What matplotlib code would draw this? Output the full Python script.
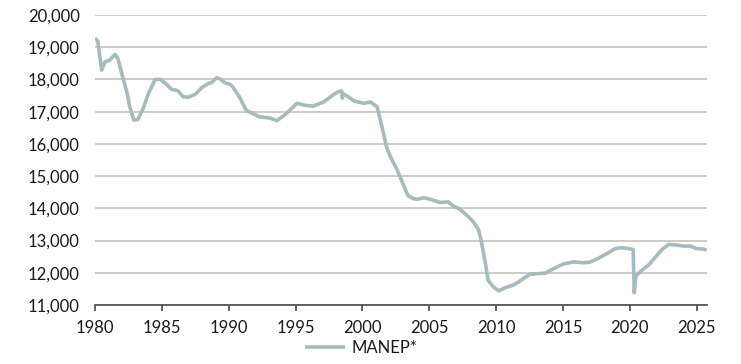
import matplotlib.pyplot as plt
import matplotlib.ticker as mticker

plt.rcParams['font.family'] = ['Lato', 'DejaVu Sans']

# MANEP* series
years = [1980.0, 1980.2, 1980.5, 1980.75, 1981.1, 1981.5, 1981.7, 1982.0, 1982.4,
         1982.6, 1982.9, 1983.2, 1983.6, 1984.0, 1984.5, 1984.9, 1985.4, 1985.7,
         1986.2, 1986.6, 1987.0, 1987.5, 1988.0, 1988.5, 1988.7, 1989.1, 1989.3,
         1989.7, 1990.1, 1990.3, 1990.8, 1991.3, 1991.6, 1992.3, 1993.1, 1993.6,
         1994.2, 1995.1, 1995.7, 1996.3, 1997.1, 1997.8, 1998.2, 1998.45, 1998.5,
         1998.55, 1998.8, 1999.4, 2000.1, 2000.6, 2001.1, 2001.4, 2001.8, 2002.1,
         2002.6, 2003.1, 2003.4, 2003.8, 2004.1, 2004.6, 2005.1, 2005.8, 2006.4,
         2006.8, 2007.3, 2007.8, 2008.3, 2008.7, 2008.9, 2009.2, 2009.4, 2009.8,
         2010.2, 2010.7, 2011.3, 2011.8, 2012.5, 2013.0, 2013.7, 2014.3, 2015.0,
         2015.8, 2016.5, 2017.0, 2017.6, 2018.3, 2018.9, 2019.4, 2019.9, 2020.25,
         2020.33, 2020.45, 2020.9, 2021.4, 2021.9, 2022.4, 2022.9, 2023.5, 2024.0,
         2024.5, 2025.0, 2025.5, 2025.75]
manep = [19280, 19200, 18290, 18550, 18600, 18780, 18660, 18190, 17570,
         17150, 16740, 16750, 17100, 17570, 18000, 18000, 17830, 17700,
         17650, 17460, 17450, 17540, 17750, 17880, 17900, 18050, 18030,
         17900, 17850, 17770, 17460, 17050, 16980, 16840, 16800, 16720,
         16900, 17260, 17200, 17170, 17300, 17520, 17620, 17640, 17420,
         17560, 17500, 17330, 17260, 17300, 17150, 16640, 15910, 15600,
         15190, 14700, 14400, 14300, 14280, 14330, 14280, 14180, 14200,
         14070, 13970, 13790, 13580, 13320, 12960, 12290, 11770, 11560,
         11440, 11540, 11620, 11750, 11950, 11970, 11990, 12130, 12270,
         12340, 12310, 12330, 12440, 12600, 12750, 12780, 12750, 12720,
         11380, 11900, 12080, 12240, 12480, 12720, 12880, 12860, 12830,
         12830, 12750, 12740, 12700]

x_ticks = list(range(1980, 2026, 5))
y_ticks = list(range(11000, 20001, 1000))

fig = plt.figure(figsize=(7.41, 3.64), dpi=100)
ax = fig.add_axes([95 / 741, 1 - 305 / 364, (706.7 - 95) / 741, 290 / 364])

ax.plot(years, manep, color='#a4bbbf', linewidth=2.6, label='MANEP*',
        solid_capstyle='butt', zorder=3)

ax.set_xlim(1980, 2025.75)
ax.set_ylim(11000, 20000)
ax.set_xticks(x_ticks)
ax.set_yticks(y_ticks)
ax.yaxis.set_major_formatter(mticker.FuncFormatter(lambda v, p: f'{int(v):,}'))

ax.grid(axis='y', color='#c6c2ba', linewidth=1.2)
ax.set_axisbelow(True)
for s in ['top', 'right', 'left']:
    ax.spines[s].set_visible(False)
ax.spines['bottom'].set_color('#555555')
ax.spines['bottom'].set_linewidth(1.3)

ax.tick_params(axis='y', length=0, pad=11, labelsize=12, labelcolor='#1a1a1a')
ax.tick_params(axis='x', length=4, width=1.3, color='#555555', pad=6.5,
               labelsize=12, labelcolor='#1a1a1a')

fig.legend(loc='lower center', bbox_to_anchor=(0.487, -0.02), frameon=False,
           fontsize=12, handlelength=2.4, handletextpad=0.4, labelcolor='#1a1a1a')

fig.savefig('out.png', dpi=100)
